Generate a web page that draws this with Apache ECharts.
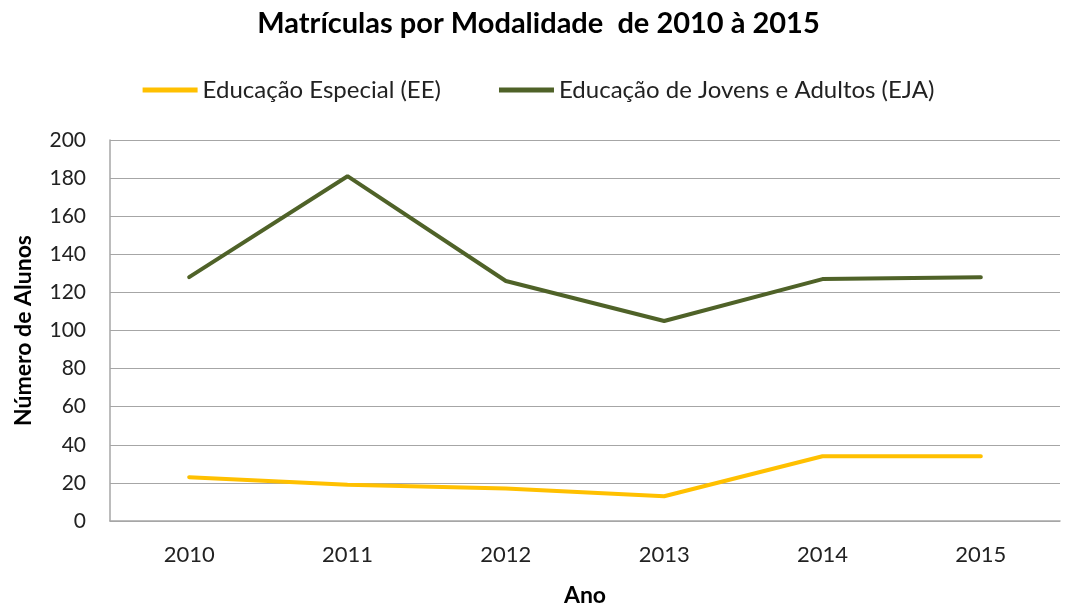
<!DOCTYPE html>
<html lang="pt">
<head>
  <meta charset="UTF-8">
  <title>Matrículas por Modalidade</title>
  <script src="https://cdn.jsdelivr.net/npm/echarts@6.0.0/dist/echarts.min.js"></script>
  <style>
    body { margin: 0; background: #fff; }
  </style>
</head>
<body>
  <div id="main" style="width: 1077px;height:605px;"></div>

  <script type="text/javascript">
    // Data
    let years = ['2010', '2011', '2012', '2013', '2014', '2015'];
    let educacaoEspecial = [23, 19, 17, 13, 34, 34];
    let educacaoJovensAdultos = [128, 181, 126, 105, 127, 128];

    let font = 'Lato, "Open Sans", sans-serif';

    let myChart = echarts.init(document.getElementById('main'));

    let options = {
      animation: false,
      textStyle: { fontFamily: font },
      title: {
        text: 'Matrículas por Modalidade  de 2010 à 2015',
        left: 'center',
        top: 4,
        textStyle: { fontSize: 29, fontWeight: 'bold', color: '#000', fontFamily: font }
      },
      legend: {
        top: 73,
        left: 'center',
        itemWidth: 55,
        itemHeight: 5,
        itemGap: 58,
        icon: 'rect',
        textStyle: { fontSize: 24, color: '#222', fontFamily: font },
        data: ['Educação Especial (EE)', 'Educação de Jovens e Adultos (EJA)']
      },
      grid: { left: 110, right: 17, top: 140, bottom: 84, containLabel: false, outerBoundsMode: 'none' },
      xAxis: {
        type: 'category',
        data: years,
        boundaryGap: true,
        name: 'Ano',
        nameLocation: 'middle',
        nameGap: 63,
        nameTextStyle: { fontSize: 23, fontWeight: 'bold', color: '#000' },
        axisLine: { lineStyle: { color: '#a6a6a6', width: 1.5 } },
        axisTick: { show: false },
        axisLabel: { fontSize: 22, color: '#222', margin: 23 }
      },
      yAxis: {
        type: 'value',
        min: 0,
        max: 200,
        interval: 20,
        name: 'Número de Alunos',
        nameLocation: 'middle',
        nameGap: 75,
        nameTextStyle: { fontSize: 23, fontWeight: 'bold', color: '#000' },
        axisLine: { show: true, lineStyle: { color: '#a6a6a6', width: 1.5 } },
        axisTick: { show: false },
        axisLabel: { fontSize: 21, color: '#222', margin: 24 },
        splitLine: { lineStyle: { color: '#a6a6a6', width: 1.2 } }
      },
      series: [
        {
          name: 'Educação Especial (EE)',
          type: 'line',
          data: educacaoEspecial,
          symbol: 'none',
          itemStyle: { color: '#FFC000' },
          lineStyle: { color: '#FFC000', width: 4, cap: 'round' }
        },
        {
          name: 'Educação de Jovens e Adultos (EJA)',
          type: 'line',
          data: educacaoJovensAdultos,
          symbol: 'none',
          itemStyle: { color: '#4F6228' },
          lineStyle: { color: '#4F6228', width: 4, cap: 'round' }
        }
      ]
    };

    myChart.setOption(options);
  </script>
</body>
</html>
